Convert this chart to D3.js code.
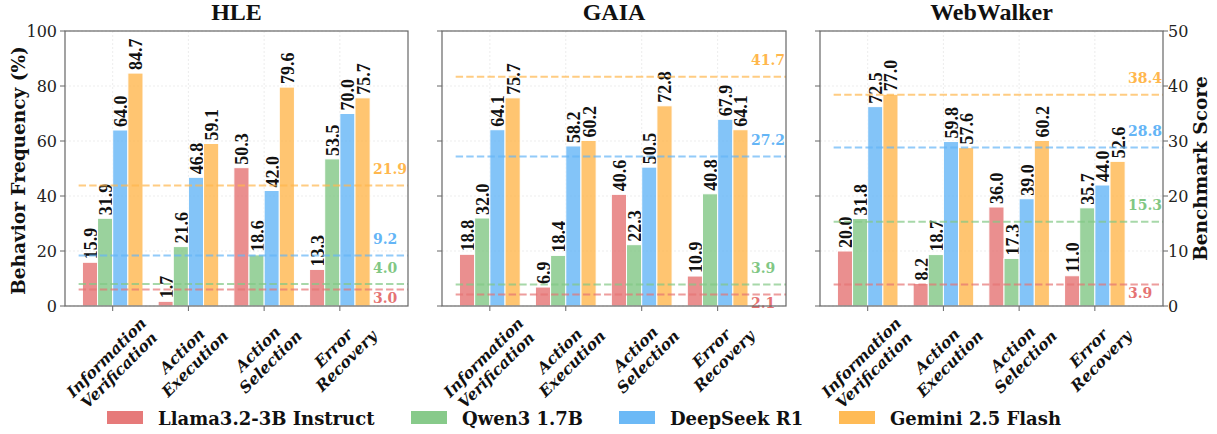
<!DOCTYPE html>
<html>
<head>
<meta charset="utf-8">
<script src="https://cdn.jsdelivr.net/npm/d3@7"></script>
<style>
  body { margin: 0; background: #fff; }
  svg { display: block; }
</style>
</head>
<body>
<script>
const width = 1217;
const height = 434;

// data
const benchmarks = ["HLE", "GAIA", "WebWalker"];
const behaviors = [["Information", "Verification"], ["Action", "Execution"], ["Action", "Selection"], ["Error", "Recovery"]];
const models = ["Llama3.2-3B Instruct", "Qwen3 1.7B", "DeepSeek R1", "Gemini 2.5 Flash"];
const colors = ["#e57373", "#81c784", "#64b5f6", "#ffb74d"];

// behavior frequency (%) per model, one row per model
const hleFreq = [
  [15.9, 1.7, 50.3, 13.3],
  [31.9, 21.6, 18.6, 53.5],
  [64.0, 46.8, 42.0, 70.0],
  [84.7, 59.1, 79.6, 75.7]
];
const gaiaFreq = [
  [18.8, 6.9, 40.6, 10.9],
  [32.0, 18.4, 22.3, 40.8],
  [64.1, 58.2, 50.5, 67.9],
  [75.7, 60.2, 72.8, 64.1]
];
const webwalkerFreq = [
  [20.0, 8.2, 36.0, 11.0],
  [31.8, 18.7, 17.3, 35.7],
  [72.5, 59.8, 39.0, 44.0],
  [77.0, 57.6, 60.2, 52.6]
];
// benchmark score per model
const hleScore = [3.0, 4.0, 9.2, 21.9];
const gaiaScore = [2.1, 3.9, 27.2, 41.7];
const webwalkerScore = [3.9, 15.3, 28.8, 38.4];

const freqs = [hleFreq, gaiaFreq, webwalkerFreq];
const scores = [hleScore, gaiaScore, webwalkerScore];
const leftTicks = [0, 20, 40, 60, 80, 100];
const rightTicks = [0, 10, 20, 30, 40, 50];

const panelX = [[65, 408], [442, 786], [820, 1163]];
const plotTop = 31, plotBottom = 306;
const spine = "#666";
const serif = "'DejaVu Serif', serif";
const times = "'Liberation Serif', 'Times New Roman', serif";

const svg = d3.select("body").append("svg")
  .attr("width", width)
  .attr("height", height);

const yScale = d3.scaleLinear().domain([0, 100]).range([plotBottom, plotTop]);
const yRight = d3.scaleLinear().domain([0, 50]).range([plotBottom, plotTop]);
const barW = 0.2;

benchmarks.forEach((name, p) => {
  const [x0, x1] = panelX[p];
  const xScale = d3.scaleLinear().domain([-0.63, 3.9]).range([x0, x1]);
  const g = svg.append("g");

  // grid
  g.selectAll("line.hgrid").data(leftTicks).join("line")
    .attr("x1", x0).attr("x2", x1)
    .attr("y1", d => yScale(d)).attr("y2", d => yScale(d))
    .attr("stroke", "#b0b0b0").attr("stroke-opacity", 0.3)
    .attr("stroke-width", 0.8).attr("stroke-dasharray", "2,2");
  g.selectAll("line.vgrid").data(behaviors).join("line")
    .attr("x1", (d, i) => xScale(i)).attr("x2", (d, i) => xScale(i))
    .attr("y1", plotTop).attr("y2", plotBottom)
    .attr("stroke", "#b0b0b0").attr("stroke-opacity", 0.3)
    .attr("stroke-width", 0.8).attr("stroke-dasharray", "2,2");

  // bars
  freqs[p].forEach((row, m) => {
    const off = (m - 1.5) * barW;
    g.selectAll(null).data(row).join("rect")
      .attr("x", (d, i) => xScale(i + off - barW / 2))
      .attr("width", xScale(barW) - xScale(0))
      .attr("y", d => yScale(d))
      .attr("height", d => yScale(0) - yScale(d))
      .attr("fill", colors[m]).attr("fill-opacity", 0.8)
      .attr("stroke", "#fff").attr("stroke-width", 1);
    g.selectAll(null).data(row).join("text")
      .attr("transform", (d, i) => `translate(${xScale(i + off) + 1},${yScale(d) - 3}) rotate(-90)`)
      .attr("dominant-baseline", "central")
      .attr("font-family", times).attr("font-weight", "bold").attr("font-size", 18)
      .attr("fill", "#111")
      .text(d => d.toFixed(1));
  });

  // benchmark score lines
  scores[p].forEach((s, m) => {
    g.append("line")
      .attr("x1", xScale(-0.45)).attr("x2", x1)
      .attr("y1", yRight(s)).attr("y2", yRight(s))
      .attr("stroke", colors[m]).attr("stroke-opacity", 0.7)
      .attr("stroke-width", 2).attr("stroke-dasharray", "7.4,3.2");
    const t = g.append("text")
      .attr("x", x1 - 35)
      .attr("font-family", serif).attr("font-weight", "bold").attr("font-size", 14)
      .attr("fill", colors[m])
      .text(s.toFixed(1));
    if (m === 0) {
      t.attr("y", yRight(s) + 3).attr("dominant-baseline", "hanging");
    } else {
      t.attr("y", yRight(s + 3)).attr("dominant-baseline", "central");
    }
  });

  // frame
  g.append("rect")
    .attr("x", x0).attr("y", plotTop)
    .attr("width", x1 - x0).attr("height", plotBottom - plotTop)
    .attr("fill", "none").attr("stroke", spine).attr("stroke-width", 1.2);

  // left ticks
  g.selectAll("line.lt").data(leftTicks).join("line")
    .attr("x1", x0 - 5).attr("x2", x0)
    .attr("y1", d => yScale(d)).attr("y2", d => yScale(d))
    .attr("stroke", spine);
  if (p === 0) {
    g.selectAll("text.lt").data(leftTicks).join("text")
      .attr("x", x0 - 8).attr("y", d => yScale(d))
      .attr("text-anchor", "end").attr("dominant-baseline", "central")
      .attr("font-family", serif).attr("font-size", 16).attr("fill", "#222")
      .text(d => d);
  }
  if (p === 2) {
    g.selectAll("line.rt").data(rightTicks).join("line")
      .attr("x1", x1).attr("x2", x1 + 5)
      .attr("y1", d => yRight(d)).attr("y2", d => yRight(d))
      .attr("stroke", spine);
    g.selectAll("text.rt").data(rightTicks).join("text")
      .attr("x", x1 + 5).attr("y", d => yRight(d))
      .attr("dominant-baseline", "central")
      .attr("font-family", serif).attr("font-size", 16).attr("fill", "#222")
      .text(d => d);
  }

  // bottom ticks + category labels (rotated 45°, centred under tick)
  behaviors.forEach((lines, i) => {
    const cx = xScale(i);
    g.append("line")
      .attr("x1", cx).attr("x2", cx).attr("y1", plotBottom).attr("y2", plotBottom + 5)
      .attr("stroke", spine);
    const lab = g.append("g");
    const lh = 18;
    const texts = lines.map((ln, k) => lab.append("text")
      .attr("x", 0).attr("y", (k - (lines.length - 1) / 2) * lh)
      .attr("text-anchor", "middle").attr("dominant-baseline", "central")
      .attr("font-family", serif).attr("font-weight", "bold").attr("font-style", "italic")
      .attr("font-size", 15.5).attr("fill", "#111")
      .text(ln));
    const w = d3.max(texts, t => t.node().getComputedTextLength());
    const h = lines.length * lh;
    const half = (w + h) / (2 * Math.SQRT2);
    lab.attr("transform", `translate(${cx},${plotBottom + 8 + half}) rotate(-45)`);
  });

  // title
  g.append("text")
    .attr("x", (x0 + x1) / 2).attr("y", 20)
    .attr("text-anchor", "middle")
    .attr("font-family", times).attr("font-weight", "bold")
    .attr("font-size", 24).attr("fill", "#111")
    .text(name);
});

// axis titles
svg.append("text")
  .attr("transform", `translate(18,${(plotTop + plotBottom) / 2 + 2}) rotate(-90)`)
  .attr("text-anchor", "middle").attr("dominant-baseline", "central")
  .attr("font-family", serif).attr("font-weight", "bold").attr("font-size", 18.5)
  .attr("fill", "#111")
  .text("Behavior Frequency (%)");
svg.append("text")
  .attr("transform", `translate(1200,${(plotTop + plotBottom) / 2}) rotate(-90)`)
  .attr("text-anchor", "middle").attr("dominant-baseline", "central")
  .attr("font-family", serif).attr("font-weight", "bold").attr("font-size", 18.5)
  .attr("fill", "#111")
  .text("Benchmark Score");

// legend
const legendX = [107, 411, 619, 839];
const legend = svg.append("g");
models.forEach((m, i) => {
  legend.append("rect")
    .attr("x", legendX[i]).attr("y", 411)
    .attr("width", 36).attr("height", 13)
    .attr("fill", colors[i]).attr("fill-opacity", 0.95);
  legend.append("text")
    .attr("x", legendX[i] + 51).attr("y", 418)
    .attr("dominant-baseline", "central")
    .attr("font-family", serif).attr("font-weight", "bold").attr("font-size", 18)
    .attr("fill", "#111")
    .text(m);
});
</script>
</body>
</html>
